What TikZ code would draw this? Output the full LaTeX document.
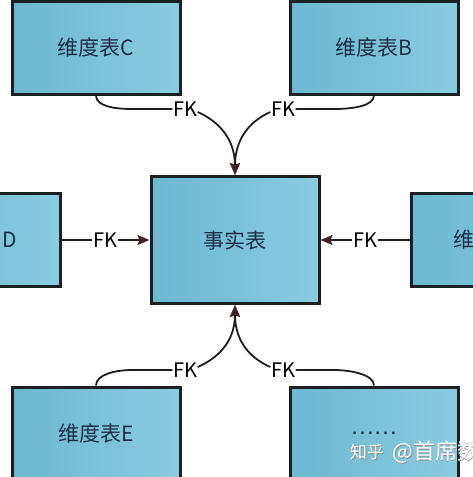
\documentclass[tikz,border=0pt]{standalone}
\usepackage{fontspec}
\newfontfamily\cjk{Noto Sans CJK SC}
\usetikzlibrary{arrows.meta}
\definecolor{boxdark}{RGB}{108,184,208}
\definecolor{boxlight}{RGB}{138,204,224}
\definecolor{edgec}{RGB}{26,32,36}
\definecolor{txtc}{RGB}{25,45,70}
\definecolor{wirec}{RGB}{35,28,28}
\definecolor{tipc}{RGB}{62,36,36}
\begin{document}
\begin{tikzpicture}[x=1pt,y=-1pt,
  tbl/.style={draw=edgec, line width=3pt, left color=boxdark, right color=boxlight,
    minimum width=168pt, minimum height=93pt, inner sep=0pt,
    font=\cjk\fontsize{21}{21}\selectfont, text=txtc},
  boxtext/.style={font=\cjk\fontsize{21}{21}\selectfont, text=txtc, inner sep=0pt},
  fk/.style={font=\cjk\fontsize{20}{20}\selectfont, inner sep=0.5pt, text=black},
  wire/.style={draw=wirec, line width=1.8pt},
  arr/.style={wire, -{Stealth[length=12pt,width=10pt,inset=2pt,color=tipc]}},
  wm/.style={text=white, inner sep=0pt, anchor=west}]
\useasboundingbox (0,0) rectangle (473,477);
\clip (0,0) rectangle (473,477);
\fill[white] (0,0) rectangle (473,477);

% tables
\node[tbl] (C) at (96,47.5) {维度表C};
\node[tbl] (B) at (374,47.5) {维度表B};
\node[tbl, minimum height=127pt] (F) at (235,240) {事实表};
\node[tbl] (D) at (-24,240) {};
\node[boxtext, anchor=east] (Dt) at (17,240) {D};
\node[tbl] (A) at (495,240) {};
\node[boxtext, anchor=west] (At) at (453,240) {维};
\node[tbl] (E) at (96,433.5) {维度表E};
\node[tbl] (G) at (374,433.5) {……};

% FK labels
\node[fk] (fkC) at (185,109) {FK};
\node[fk] (fkB) at (283,109) {FK};
\node[fk] (fkD) at (105,240) {FK};
\node[fk] (fkA) at (365,240) {FK};
\node[fk] (fkE) at (185,370) {FK};
\node[fk] (fkG) at (283,370) {FK};

% connectors top
\draw[wire] (C.south) .. controls +(0,11) and +(-17,0) .. ([xshift=-40pt]fkC.west) -- (fkC.west);
\draw[arr] ([yshift=-3pt]fkC.east) .. controls +(16,7) and +(0,-40) .. (F.north);
\draw[wire] (B.south) .. controls +(0,11) and +(17,0) .. ([xshift=38pt]fkB.east) -- (fkB.east);
\draw[arr] ([yshift=-3pt]fkB.west) .. controls +(-16,7) and +(0,-40) .. (F.north);

% connectors sides
\draw[wire] (D.east) -- (fkD.west);
\draw[arr] (fkD.east) -- (F.west);
\draw[wire] (A.west) -- (fkA.east);
\draw[arr] (fkA.west) -- (F.east);

% connectors bottom
\draw[wire] (E.north) .. controls +(0,-11) and +(-17,0) .. ([xshift=-40pt]fkE.west) -- (fkE.west);
\draw[arr] ([yshift=3pt]fkE.east) .. controls +(16,-7) and +(0,40) .. (F.south);
\draw[wire] (G.north) .. controls +(0,-11) and +(17,0) .. ([xshift=38pt]fkG.east) -- (fkG.east);
\draw[arr] ([yshift=3pt]fkG.west) .. controls +(-16,-7) and +(0,40) .. (F.south);

% watermark
\node[wm, text=black!45] at (350.8,452.8) {\cjk\fontsize{17}{17}\selectfont 知乎};
\node[wm] (wm1) at (350,452) {\cjk\fontsize{17}{17}\selectfont 知乎};
\node[wm, text=black!45] at (392.8,452.8) {\cjk\fontsize{22}{22}\selectfont @首席数};
\node[wm] (wm2) at (392,452) {\cjk\fontsize{22}{22}\selectfont @首席数};
\end{tikzpicture}
\end{document}
